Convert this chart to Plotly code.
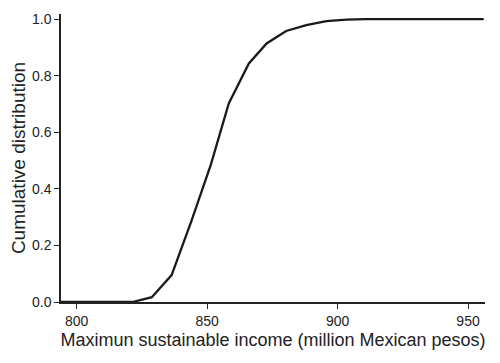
import plotly.graph_objects as go

income = [794, 800, 810, 821.4, 828.8, 836.4, 843.9, 851.4, 858.3, 866.0, 872.8, 880.3, 888.0, 895.7, 903.5, 911.0, 925.0, 940.0, 956.0]
cumdist = [0.0, 0.0, 0.0, 0.0, 0.017, 0.095, 0.284, 0.485, 0.702, 0.843, 0.914, 0.958, 0.979, 0.993, 0.998, 1.0, 1.0, 1.0, 1.0]

xticks = [800, 850, 900, 950]
yticks = [0.0, 0.2, 0.4, 0.6, 0.8, 1.0]
ytick_labels = ["0.0", "0.2", "0.4", "0.6", "0.8", "1.0"]

font_family = "Liberation Sans Narrow, Arial Narrow, Liberation Sans, Arial, sans-serif"

fig = go.Figure(go.Scatter(x=income, y=cumdist, mode="lines",
                           line=dict(color="#1a1a1a", width=2.3), cliponaxis=False))

fig.update_layout(
    width=500, height=363,
    margin=dict(l=53, r=23, t=6, b=69),
    plot_bgcolor="white", paper_bgcolor="white",
    showlegend=False,
    font=dict(family=font_family, color="#222"),
    xaxis=dict(range=[794, 956.5], tickvals=xticks, ticks="outside", ticklen=5, tickwidth=1.2,
               tickcolor="#222", showline=True, linecolor="#222", linewidth=1.5,
               showgrid=False, zeroline=False, tickfont=dict(size=14), automargin=False,
               title=dict(text="Maximun sustainable income (million Mexican pesos)",
                          font=dict(size=18), standoff=6)),
    yaxis=dict(range=[0, 1.018], tickvals=yticks, ticktext=ytick_labels, ticks="outside", ticklen=5,
               tickwidth=1.2, tickcolor="#222", showline=True, linecolor="#222", linewidth=1.5,
               showgrid=False, zeroline=False, tickfont=dict(size=14), automargin=False,
               title=dict(text="Cumulative distribution", font=dict(size=19), standoff=6)),
)

fig.write_html("out.html")
